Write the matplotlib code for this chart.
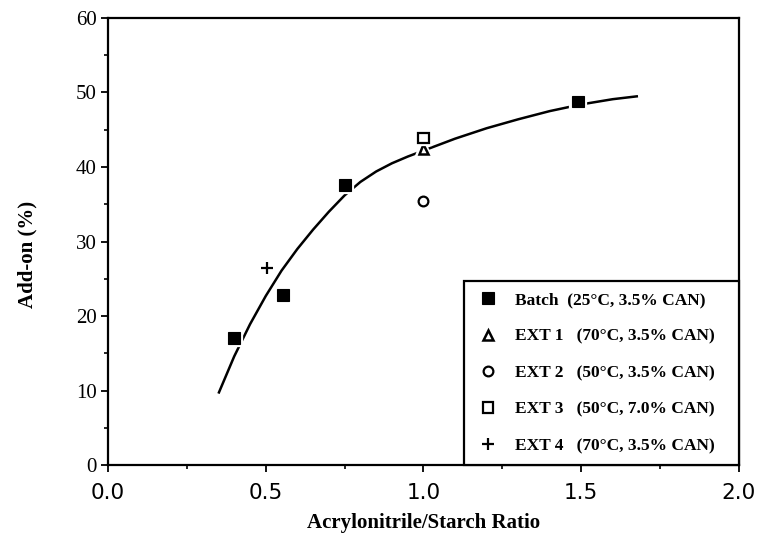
import matplotlib
matplotlib.use("Agg")
import matplotlib.pyplot as plt
import matplotlib.patheffects as pe
from matplotlib.ticker import MultipleLocator

# Data
batch_x = [0.40, 0.555, 0.75, 1.49]
batch_y = [17.1, 22.8, 37.6, 48.8]
ext1_x, ext1_y = [1.0], [42.4]
ext2_x, ext2_y = [1.0], [35.4]
ext3_x, ext3_y = [1.0], [43.9]
ext4_x, ext4_y = [0.505], [26.4]

curve_x = [0.35, 0.40, 0.45, 0.50, 0.55, 0.60, 0.65, 0.70, 0.75, 0.80, 0.85,
           0.90, 0.95, 1.00, 1.10, 1.20, 1.30, 1.40, 1.50, 1.60, 1.68]
curve_y = [9.6, 14.6, 18.9, 22.7, 26.1, 29.0, 31.6, 34.0, 36.2, 38.0, 39.4,
           40.5, 41.4, 42.2, 43.8, 45.2, 46.4, 47.5, 48.4, 49.1, 49.5]

labels = ["Batch  (25°C, 3.5% CAN)   ",
          "EXT 1   (70°C, 3.5% CAN)   ",
          "EXT 2   (50°C, 3.5% CAN)   ",
          "EXT 3   (50°C, 7.0% CAN)   ",
          "EXT 4   (70°C, 3.5% CAN)   "]

serif = "Liberation Serif"

fig = plt.figure(figsize=(7.61, 5.44), dpi=100)
ax = fig.add_axes([0.142, 0.145, 0.829, 0.822])

ax.plot(curve_x, curve_y, color="black", lw=1.8, zorder=2,
        solid_capstyle="butt", solid_joinstyle="round")

halo = [pe.Stroke(linewidth=4.5, foreground="white"), pe.Normal()]

h1, = ax.plot(batch_x, batch_y, "s", color="black", ms=8.5, mec="black", mew=0.8,
              linestyle="none", zorder=3, path_effects=halo)
h2, = ax.plot(ext1_x, ext1_y, "^", mfc="white", mec="black", ms=7, mew=1.8,
              linestyle="none", zorder=4, path_effects=halo)
h3, = ax.plot(ext2_x, ext2_y, "o", mfc="white", mec="black", ms=7, mew=1.6,
              linestyle="none", zorder=4)
h4, = ax.plot(ext3_x, ext3_y, "s", mfc="white", mec="black", ms=7.5, mew=1.6,
              linestyle="none", zorder=4, path_effects=halo)
h5, = ax.plot(ext4_x, ext4_y, "+", color="black", ms=9, mew=1.6,
              linestyle="none", zorder=4)

ax.set_xlim(0, 2.0)
ax.set_ylim(0, 60)
ax.xaxis.set_major_locator(MultipleLocator(0.5))
ax.xaxis.set_minor_locator(MultipleLocator(0.25))
ax.yaxis.set_major_locator(MultipleLocator(10))
ax.yaxis.set_minor_locator(MultipleLocator(5))
ax.set_xticks([0, 0.5, 1.0, 1.5, 2.0])
ax.set_xticklabels(["0.0", "0.5", "1.0", "1.5", "2.0"])

ax.tick_params(which="major", direction="out", length=5, width=1.3)
ax.tick_params(which="minor", direction="out", length=3, width=1.2)
ax.tick_params(axis="x", pad=8)
ax.tick_params(axis="y", pad=3)
for lab in ax.get_xticklabels():
    lab.set_fontfamily("DejaVu Sans")
    lab.set_fontsize(15.5)
for lab in ax.get_yticklabels():
    lab.set_fontfamily(serif)
    lab.set_fontsize(15)

for s in ax.spines.values():
    s.set_linewidth(1.6)

ax.set_xlabel("Acrylonitrile/Starch Ratio", fontfamily=serif, fontweight="bold",
              fontsize=15, labelpad=7)
ax.set_ylabel("Add-on (%)", fontfamily=serif, fontweight="bold", fontsize=15)
ax.yaxis.set_label_coords(-0.112, 0.472)

leg = ax.legend([h1, h2, h3, h4, h5], labels, loc="lower right",
                bbox_to_anchor=(1.0, 0.0), borderaxespad=0.0, frameon=True,
                fancybox=False, edgecolor="black", framealpha=1,
                prop={"family": serif, "weight": "bold", "size": 12.5},
                labelspacing=1.17, handletextpad=0.8, handlelength=1.5,
                borderpad=0.63)
leg.get_frame().set_linewidth(1.6)

fig.savefig("out.png", dpi=100)
